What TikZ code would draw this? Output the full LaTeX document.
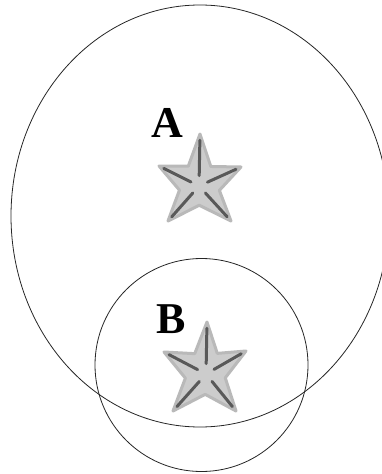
\documentclass[tikz,border=0pt]{standalone}
\usepackage{fontspec}
\setmainfont{Liberation Serif}[BoldFont={Liberation Serif Bold}]
\usetikzlibrary{calc,shapes.geometric}
\tikzset{
  setline/.style={draw=black!85, line width=0.8pt, fill=none, inner sep=0pt, outer sep=0pt},
  letter/.style={font=\bfseries\fontsize{44}{44}\selectfont, anchor=base, inner sep=0pt, text=black},
  starbody/.style={fill=gray!40, draw=gray!55, line width=3pt, line join=round},
  starridge/.style={draw=black!65, line width=3pt, line cap=round},
}
\begin{document}
\begin{tikzpicture}[x=1pt,y=-1pt]
\useasboundingbox (0,0) rectangle (382,474);
\clip (0,0) rectangle (382,474);
\fill[white] (0,0) rectangle (382,474);
% sets
\node[setline, ellipse, minimum width=378pt, minimum height=422pt] (setA) at (200,216) {};
\node[setline, circle, minimum size=213pt] (setB) at (201.5,365) {};
% star A points
\coordinate (ac) at (199,186);
\coordinate (at1) at (200,134);
\coordinate (at2) at (241,167);
\coordinate (at3) at (231,221);
\coordinate (at4) at (168,221);
\coordinate (at5) at (159,166);
% star B points
\coordinate (bc) at (206,374);
\coordinate (bt1) at (207,322);
\coordinate (bt2) at (246,351);
\coordinate (bt3) at (236,411);
\coordinate (bt4) at (173,411);
\coordinate (bt5) at (164,352);
\foreach \p in {a,b}{
  \path[starbody]
    (\p t1) -- ($(\p c)!0.55!($(\p t1)!0.5!(\p t2)$)$)
    -- (\p t2) -- ($(\p c)!0.55!($(\p t2)!0.5!(\p t3)$)$)
    -- (\p t3) -- ($(\p c)!0.55!($(\p t3)!0.5!(\p t4)$)$)
    -- (\p t4) -- ($(\p c)!0.55!($(\p t4)!0.5!(\p t5)$)$)
    -- (\p t5) -- ($(\p c)!0.55!($(\p t5)!0.5!(\p t1)$)$)
    -- cycle;
  \foreach \t in {1,...,5}{
    \draw[starridge] ($(\p c)!0.2!(\p t\t)$) -- ($(\p c)!0.88!(\p t\t)$);
  }
}
% labels
\node[letter] (labA) at (167.5,137) {A};
\node[letter] (labB) at (171,333) {B};
\end{tikzpicture}
\end{document}
